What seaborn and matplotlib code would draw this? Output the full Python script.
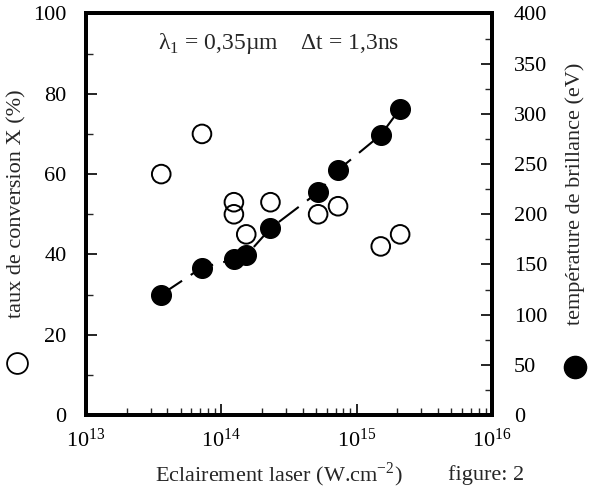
import matplotlib
matplotlib.use("Agg")
import matplotlib.pyplot as plt
import seaborn as sns
import pandas as pd
from matplotlib.ticker import MultipleLocator, LogLocator, NullFormatter
from matplotlib.lines import Line2D

# conversion rate X (%) - open circles, left axis
conv_flux = [3.6e13, 7.2e13, 1.24e14, 1.24e14, 1.53e14, 2.31e14, 5.2e14, 7.3e14, 1.51e15, 2.1e15]
conv_rate = [60, 70, 53, 50, 45, 53, 50, 52, 42, 45]

# brightness temperature (eV) - filled circles, right axis
temp_flux = [3.6e13, 7.2e13, 1.24e14, 1.53e14, 2.31e14, 5.2e14, 7.3e14, 1.51e15, 2.1e15]
temp_ev = [120, 147, 155, 159, 186, 222, 244, 279, 305]

conv = pd.DataFrame({"flux": conv_flux, "rate": conv_rate})
temp = pd.DataFrame({"flux": temp_flux, "temp": temp_ev})

sns.set_style("white")
plt.rcParams["font.family"] = ["Liberation Serif", "DejaVu Serif"]
plt.rcParams["mathtext.fontset"] = "custom"
plt.rcParams["mathtext.rm"] = "Liberation Serif"

fig = plt.figure(figsize=(5.89, 4.96), dpi=100)
ax = fig.add_axes([0.146, 0.163, 0.689, 0.810])
ax2 = ax.twinx()

sns.lineplot(data=temp, x="flux", y="temp", ax=ax2, color="black", lw=1.5,
             linestyle=(0, (12, 5)), sort=False)
sns.scatterplot(data=temp, x="flux", y="temp", ax=ax2, color="black", s=200,
                edgecolor="black", linewidth=1, zorder=3)
sns.scatterplot(data=conv, x="flux", y="rate", ax=ax, facecolor="none",
                edgecolor="black", s=180, linewidth=1.4, zorder=3)

ax.set_xscale("log")
ax.set_xlim(1e13, 1e16)
ax.set_ylim(0, 100)
ax2.set_ylim(0, 400)

ax.yaxis.set_major_locator(MultipleLocator(20))
ax.yaxis.set_minor_locator(MultipleLocator(10))
ax2.yaxis.set_major_locator(MultipleLocator(50))
ax2.yaxis.set_minor_locator(MultipleLocator(25))
ax.xaxis.set_major_locator(LogLocator(base=10, numticks=10))
ax.xaxis.set_minor_locator(LogLocator(base=10, subs=range(2, 10), numticks=20))
ax.xaxis.set_minor_formatter(NullFormatter())

for a in (ax, ax2):
    for s in a.spines.values():
        s.set_linewidth(2.8)
        s.set_color("black")
    a.set_xlabel("")
    a.set_ylabel("")

ax.tick_params(axis="y", which="major", direction="in", length=8, width=1.2,
               labelsize=16, colors="black", left=True, right=False, pad=14)
ax.tick_params(axis="y", which="minor", direction="in", length=5, width=1.0,
               left=True, right=False)
ax.tick_params(axis="x", which="major", direction="in", length=8, width=1.2,
               labelsize=16, colors="black", bottom=True, top=False, pad=10)
ax.tick_params(axis="x", which="minor", direction="in", length=5, width=1.0,
               bottom=True, top=False)
ax2.tick_params(axis="y", which="major", direction="in", length=8, width=1.2,
                labelsize=16, colors="black", right=True, left=False, pad=16)
ax2.tick_params(axis="y", which="minor", direction="in", length=5, width=1.0,
                right=True, left=False)

fig.text(0.268, 0.913, "λ$_1$ = 0,35µm    Δt = 1,3ns", ha="left", va="center", fontsize=17)

fig.text(0.028, 0.59, "taux de conversion X (%)", rotation=90, ha="center", va="center", fontsize=16)
fig.text(0.976, 0.61, "température de brillance (eV)", rotation=90, ha="center", va="center", fontsize=16)
fig.text(0.263, 0.042, r"Eclairement laser (W.cm$^{-2}$)", ha="left", va="center", fontsize=16)
fig.text(0.761, 0.042, "figure: 2", ha="left", va="center", fontsize=16)

fig.add_artist(Line2D([0.029], [0.268], marker="o", markersize=15, markerfacecolor="none",
                      markeredgecolor="black", markeredgewidth=1.3, transform=fig.transFigure))
fig.add_artist(Line2D([0.976], [0.26], marker="o", markersize=16, markerfacecolor="black",
                      markeredgecolor="black", transform=fig.transFigure))

fig.savefig("out.png", dpi=100)
